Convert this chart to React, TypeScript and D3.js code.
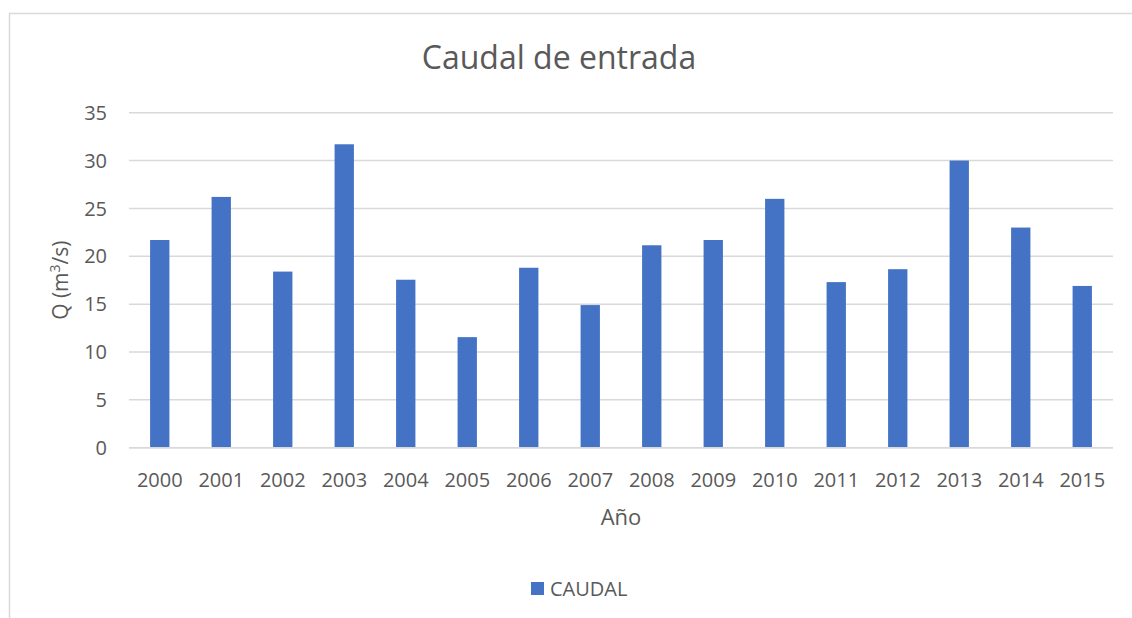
import React from "react";
import * as d3 from "d3";

const years = ["2000","2001","2002","2003","2004","2005","2006","2007","2008","2009","2010","2011","2012","2013","2014","2015"];
const caudal = [21.7, 26.2, 18.4, 31.7, 17.55, 11.55, 18.8, 14.9, 21.15, 21.7, 26.0, 17.3, 18.65, 30.0, 23.0, 16.9];
const yTicks = [0, 5, 10, 15, 20, 25, 30, 35];
const title = "Caudal de entrada";
const xTitle = "Año";
const seriesName = "CAUDAL";

const W = 1132, H = 618;
const TEXT = "#595959";
const GRID = "#D9D9D9";
const BAR = "#4472C4";
const FONT = "'Open Sans', sans-serif";

export default function App() {
  const x = d3.scaleBand<string>().domain(years).range([129, 1113]).paddingInner(0.686).paddingOuter(0.343);
  const y = d3.scaleLinear().domain([0, 35]).range([447.7, 112.7]);
  const cx = (129 + 1113) / 2;
  return (
    <svg width={W} height={H} style={{ position: "absolute", left: 0, top: 0, display: "block", background: "#fff" }} fontFamily={FONT}>
      <rect x={9.5} y={13.5} width={W + 20} height={H + 20} fill="#fff" stroke={GRID} strokeWidth={1.5} />
      <text x={559} y={69} textAnchor="middle" fontSize={32} fill={TEXT}>{title}</text>
      {yTicks.map(t => (
        <g key={t}>
          <line x1={129} x2={1113} y1={y(t)} y2={y(t)} stroke={GRID} strokeWidth={1.5} />
          <text x={107} y={y(t)} dy="0.36em" textAnchor="end" fontSize={20} fill={TEXT}>{t}</text>
        </g>
      ))}
      {years.map((yr, i) => (
        <rect key={yr} x={x(yr)} y={y(caudal[i])} width={x.bandwidth()} height={y(0) - y(caudal[i])} fill={BAR} />
      ))}
      <line x1={129} x2={1113} y1={y(0)} y2={y(0)} stroke={GRID} strokeWidth={1.5} />
      {years.map(yr => (
        <text key={yr} x={(x(yr) as number) + x.bandwidth() / 2} y={487} textAnchor="middle" fontSize={20} fill={TEXT}>{yr}</text>
      ))}
      <text x={cx} y={525} textAnchor="middle" fontSize={22} fill={TEXT}>{xTitle}</text>
      <text transform={`translate(68,${(y(0) + y(35)) / 2}) rotate(-90)`} textAnchor="middle" fontSize={21} fill={TEXT}>
        Q (m<tspan fontSize={14} dy={-8}>3</tspan><tspan dy={8}>/s)</tspan>
      </text>
      <rect x={531} y={582} width={13} height={13} fill={BAR} />
      <text x={550} y={596} fontSize={20} fill={TEXT}>{seriesName}</text>
    </svg>
  );
}
